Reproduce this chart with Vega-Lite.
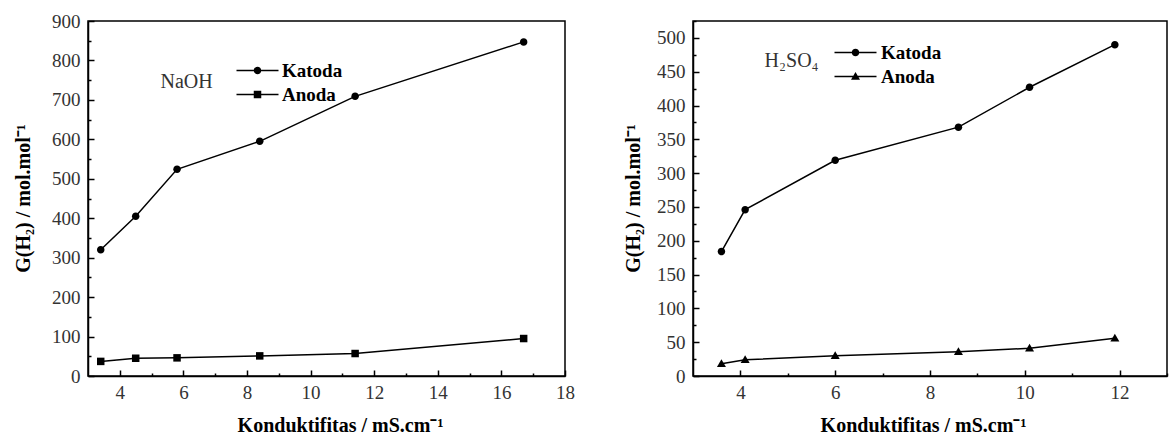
{
  "$schema": "https://vega.github.io/schema/vega-lite/v6.json",
  "autosize": {"type": "none"},
  "padding": {"left": 88, "top": 21, "right": 1082, "bottom": 416},
  "background": "white",
  "spacing": 128,
  "bounds": "flush",
  "config": {
    "view": {"stroke": "black", "strokeWidth": 1.5},
    "font": "Liberation Serif",
    "axis": {
      "grid": false,
      "domainColor": "black",
      "domainWidth": 1.5,
      "tickColor": "black",
      "tickWidth": 1.5,
      "labelOverlap": false,
      "labelBound": false,
      "labelFlush": false,
      "labelFont": "Liberation Serif",
      "labelFontSize": 19,
      "labelColor": "#333333",
      "titleFont": "Liberation Serif",
      "titleFontSize": 20,
      "titleFontWeight": "bold",
      "titleColor": "black"
    },
    "legend": {
      "orient": "none",
      "title": null,
      "padding": 0,
      "symbolSize": 100,
      "labelFont": "Liberation Serif",
      "labelFontSize": 19,
      "labelFontWeight": "bold",
      "labelColor": "black",
      "rowPadding": 4,
      "symbolStrokeWidth": 0,
      "symbolFillColor": "black",
      "symbolOpacity": 1
    }
  },
  "datasets": {
    "naoh": [
      {"series": "Katoda", "x": 3.4, "y": 320},
      {"series": "Katoda", "x": 4.5, "y": 405},
      {"series": "Katoda", "x": 5.8, "y": 524},
      {"series": "Katoda", "x": 8.4, "y": 595},
      {"series": "Katoda", "x": 11.4, "y": 709},
      {"series": "Katoda", "x": 16.7, "y": 847},
      {"series": "Anoda", "x": 3.4, "y": 37},
      {"series": "Anoda", "x": 4.5, "y": 45},
      {"series": "Anoda", "x": 5.8, "y": 46},
      {"series": "Anoda", "x": 8.4, "y": 51},
      {"series": "Anoda", "x": 11.4, "y": 57},
      {"series": "Anoda", "x": 16.7, "y": 95}
    ],
    "h2so4": [
      {"series": "Katoda", "x": 3.6, "y": 184},
      {"series": "Katoda", "x": 4.1, "y": 246},
      {"series": "Katoda", "x": 6.0, "y": 319},
      {"series": "Katoda", "x": 8.6, "y": 368},
      {"series": "Katoda", "x": 10.1, "y": 427},
      {"series": "Katoda", "x": 11.9, "y": 490},
      {"series": "Anoda", "x": 3.6, "y": 18},
      {"series": "Anoda", "x": 4.1, "y": 24},
      {"series": "Anoda", "x": 6.0, "y": 30},
      {"series": "Anoda", "x": 8.6, "y": 36},
      {"series": "Anoda", "x": 10.1, "y": 41},
      {"series": "Anoda", "x": 11.9, "y": 56}
    ]
  },
  "resolve": {"scale": {"shape": "independent"}, "legend": {"shape": "independent"}},
  "hconcat": [
    {
      "width": 477,
      "height": 355,
      "resolve": {"axis": {"x": "independent", "y": "independent"}, "scale": {"shape": "independent"}, "legend": {"shape": "independent"}},
      "layer": [
        {
          "data": {"name": "naoh"},
          "mark": {"type": "line", "color": "black", "strokeWidth": 1.5},
          "encoding": {
            "x": {
              "field": "x", "type": "quantitative",
              "scale": {"domain": [3, 18], "nice": false, "zero": false},
              "axis": {
                "orient": "bottom",
                "values": [4, 6, 8, 10, 12, 14, 16, 18],
                "labelOverlap": false,
                "labelPadding": 22,
                "labelBaseline": "middle",
                "tickSize": -6,
                "title": "Konduktifitas / mS.cm⁻¹",
                "titleX": 252,
                "titleY": 49,
                "titleAlign": "center",
                "titleBaseline": "middle"
              }
            },
            "y": {
              "field": "y", "type": "quantitative",
              "scale": {"domain": [0, 900], "nice": false},
              "axis": {
                "orient": "left",
                "values": [0, 100, 200, 300, 400, 500, 600, 700, 800, 900],
                "labelOverlap": false,
                "labelPadding": 14,
                "tickSize": -6,
                "title": "G(H₂) / mol.mol⁻¹",
                "titleX": -65,
                "titleY": 177,
                "titleAngle": -90,
                "titleAlign": "center",
                "titleBaseline": "middle"
              }
            },
            "detail": {"field": "series"}
          }
        },
        {
          "data": {"name": "naoh"},
          "mark": {"type": "point", "filled": true, "color": "black", "opacity": 1, "size": 100},
          "encoding": {
            "x": {"field": "x", "type": "quantitative", "axis": null},
            "y": {"field": "y", "type": "quantitative", "axis": null},
            "shape": {
              "field": "series", "type": "nominal",
              "scale": {"domain": ["Katoda", "Anoda"], "range": ["M0.75,0A0.75,0.75,0,1,1,-0.75,0A0.75,0.75,0,1,1,0.75,0Z", "M-0.75,-0.75H0.75V0.75H-0.75Z"]},
              "legend": null
            }
          }
        },
        {
          "data": {"name": "naoh"},
          "transform": [{"filter": "false"}],
          "mark": {"type": "point", "filled": true, "color": "black", "opacity": 1, "size": 100},
          "encoding": {
            "x": {"field": "x", "type": "quantitative", "axis": null},
            "y": {"field": "y", "type": "quantitative", "axis": null},
            "shape": {
              "field": "series", "type": "nominal",
              "scale": {"domain": ["Katoda", "Anoda"], "range": ["M-4.2,-0.15H4.2V0.15H-4.2ZM0.75,0A0.75,0.75,0,1,1,-0.75,0A0.75,0.75,0,1,1,0.75,0Z", "M-4.2,-0.15H4.2V0.15H-4.2ZM-0.75,-0.75H0.75V0.75H-0.75Z"]},
              "legend": {"legendX": 160, "legendY": 40, "labelOffset": 15}
            }
          }
        },
        {
          "data": {"values": [{}]},
          "mark": {"type": "text", "font": "Liberation Serif", "fontSize": 20, "color": "#333333", "align": "center", "baseline": "middle"},
          "encoding": {
            "x": {
              "datum": 6.1, "type": "quantitative",
              "axis": {"orient": "bottom", "values": [5, 7, 9, 11, 13, 15, 17], "labels": false, "domain": false, "title": null, "tickSize": -3}
            },
            "y": {
              "datum": 745, "type": "quantitative",
              "axis": {"orient": "left", "values": [50, 150, 250, 350, 450, 550, 650, 750, 850], "labels": false, "domain": false, "title": null, "tickSize": -3}
            },
            "text": {"value": "NaOH"}
          }
        }
      ]
    },
    {
      "width": 474,
      "height": 355,
      "resolve": {"axis": {"x": "independent", "y": "independent"}, "scale": {"shape": "independent"}, "legend": {"shape": "independent"}},
      "layer": [
        {
          "data": {"name": "h2so4"},
          "mark": {"type": "line", "color": "black", "strokeWidth": 1.5},
          "encoding": {
            "x": {
              "field": "x", "type": "quantitative",
              "scale": {"domain": [3, 13], "nice": false, "zero": false},
              "axis": {
                "orient": "bottom",
                "values": [4, 6, 8, 10, 12],
                "labelOverlap": false,
                "labelPadding": 22,
                "labelBaseline": "middle",
                "tickSize": -6,
                "title": "Konduktifitas / mS.cm⁻¹",
                "titleX": 230,
                "titleY": 49,
                "titleAlign": "center",
                "titleBaseline": "middle"
              }
            },
            "y": {
              "field": "y", "type": "quantitative",
              "scale": {"domain": [0, 525], "nice": false},
              "axis": {
                "orient": "left",
                "values": [0, 50, 100, 150, 200, 250, 300, 350, 400, 450, 500],
                "labelOverlap": false,
                "labelPadding": 14,
                "tickSize": -6,
                "title": "G(H₂) / mol.mol⁻¹",
                "titleX": -60,
                "titleY": 177,
                "titleAngle": -90,
                "titleAlign": "center",
                "titleBaseline": "middle"
              }
            },
            "detail": {"field": "series"}
          }
        },
        {
          "data": {"name": "h2so4"},
          "mark": {"type": "point", "filled": true, "color": "black", "opacity": 1, "size": 100},
          "encoding": {
            "x": {"field": "x", "type": "quantitative", "axis": null},
            "y": {"field": "y", "type": "quantitative", "axis": null},
            "shape": {
              "field": "series", "type": "nominal",
              "scale": {"domain": ["Katoda", "Anoda"], "range": ["M0.75,0A0.75,0.75,0,1,1,-0.75,0A0.75,0.75,0,1,1,0.75,0Z", "M0,-0.9L0.9,0.65H-0.9Z"]},
              "legend": null
            }
          }
        },
        {
          "data": {"name": "h2so4"},
          "transform": [{"filter": "false"}],
          "mark": {"type": "point", "filled": true, "color": "black", "opacity": 1, "size": 100},
          "encoding": {
            "x": {"field": "x", "type": "quantitative", "axis": null},
            "y": {"field": "y", "type": "quantitative", "axis": null},
            "shape": {
              "field": "series", "type": "nominal",
              "scale": {"domain": ["Katoda", "Anoda"], "range": ["M-4.2,-0.15H4.2V0.15H-4.2ZM0.75,0A0.75,0.75,0,1,1,-0.75,0A0.75,0.75,0,1,1,0.75,0Z", "M-4.2,-0.15H4.2V0.15H-4.2ZM0,-0.9L0.9,0.65H-0.9Z"]},
              "legend": {"legendX": 153, "legendY": 22, "labelOffset": 16}
            }
          }
        },
        {
          "data": {"values": [{}]},
          "mark": {"type": "text", "font": "Liberation Serif", "fontSize": 20, "color": "#333333", "align": "center", "baseline": "middle"},
          "encoding": {
            "x": {
              "datum": 5.08, "type": "quantitative",
              "axis": {"orient": "bottom", "values": [5, 7, 9, 11, 13], "labels": false, "domain": false, "title": null, "tickSize": -3}
            },
            "y": {
              "datum": 466, "type": "quantitative",
              "axis": {"orient": "left", "values": [25, 75, 125, 175, 225, 275, 325, 375, 425, 475, 525], "labels": false, "domain": false, "title": null, "tickSize": -3}
            },
            "text": {"value": "H₂SO₄"}
          }
        }
      ]
    }
  ]
}
